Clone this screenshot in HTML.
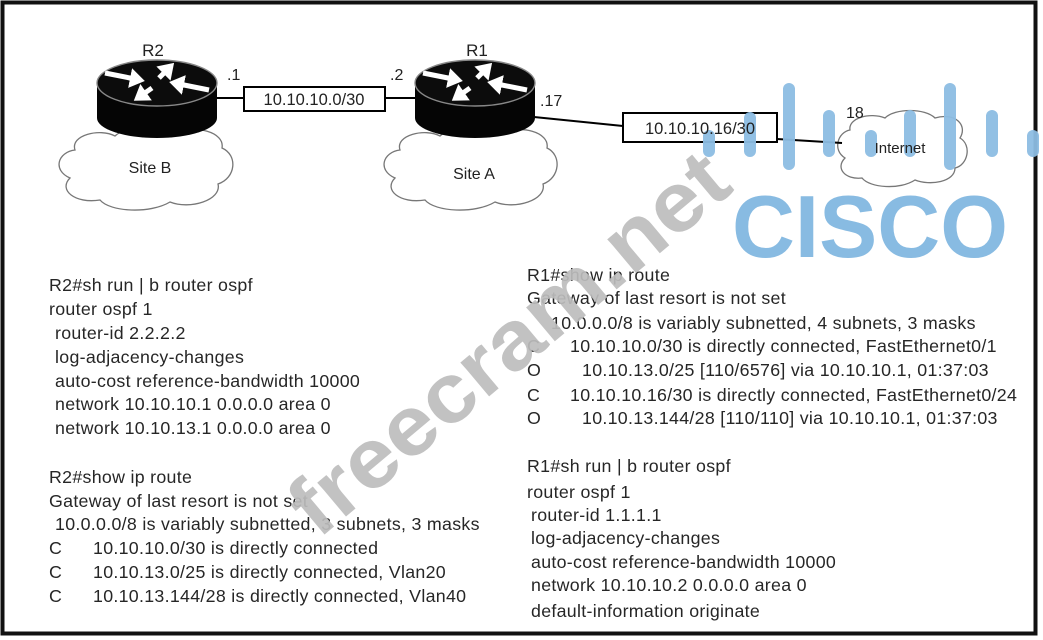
<!DOCTYPE html>
<html><head><meta charset="utf-8"><style>
html,body{margin:0;padding:0;background:#fff;}
body{width:1043px;height:640px;overflow:hidden;position:relative;}
.l{position:absolute;font-family:"Liberation Sans",sans-serif;font-size:17.8px;letter-spacing:0.3px;color:#262626;white-space:pre;line-height:20px;}
.p{display:inline-block;}
</style></head><body>
<svg width="1043" height="640" style="position:absolute;left:0;top:0" xmlns="http://www.w3.org/2000/svg">
<defs>
<marker id="ah" markerWidth="4" markerHeight="4" refX="1" refY="2" orient="auto" markerUnits="strokeWidth"><polygon points="0,0 3,2 0,4" fill="#fff"/></marker>
</defs>
<rect x="2.5" y="2.5" width="1033" height="631" fill="none" stroke="#111" stroke-width="4"/>
<g fill="#fff" stroke="#777" stroke-width="1.3">
<path d="M75,150 C70,135 100,128 115,136 C125,126 160,124 175,134 C195,124 225,132 222,148 C238,155 236,178 218,184 C222,200 190,210 170,202 C150,214 110,212 100,200 C75,204 58,190 70,178 C52,170 58,152 75,150 Z"/>
<path d="M400,150 C395,135 425,128 440,136 C450,126 485,124 500,134 C520,124 550,132 547,148 C562,155 560,178 543,184 C547,200 515,210 495,202 C475,214 435,212 425,200 C400,204 383,190 395,178 C377,170 383,152 400,150 Z"/>
<path d="M850,130 C848,118 870,112 885,118 C895,108 925,108 935,118 C955,112 968,125 960,138 C972,145 968,165 955,168 C955,182 930,186 915,180 C900,190 870,188 862,178 C845,180 835,168 845,158 C832,150 838,132 850,130 Z"/>
</g>
<line x1="214" y1="98" x2="244" y2="98" stroke="#000" stroke-width="2"/>
<line x1="385" y1="98" x2="418" y2="98" stroke="#000" stroke-width="2"/>
<line x1="534" y1="117" x2="623" y2="126" stroke="#000" stroke-width="2"/>
<line x1="777" y1="139" x2="842" y2="143" stroke="#000" stroke-width="2"/>
<rect x="244" y="87" width="141" height="24" fill="#fff" stroke="#000" stroke-width="2"/>
<rect x="623" y="113" width="154" height="29" fill="#fff" stroke="#000" stroke-width="2"/>
<g id="r">
<path d="M97,83 L97,118 A60,20 0 0 0 217,118 L217,83 Z" fill="#050505"/>
<ellipse cx="157" cy="83" rx="60" ry="23" fill="#0c0c0c" stroke="#888" stroke-width="1.4"/>
<g stroke="#fff" stroke-width="5" marker-end="url(#ah)">
<line x1="105" y1="73" x2="135" y2="79"/>
<line x1="209" y1="90" x2="179" y2="84"/>
<line x1="159" y1="78" x2="167" y2="70"/>
<line x1="152" y1="88" x2="142" y2="95"/>
</g>
</g>
<use href="#r" transform="translate(318,0)"/>
<g fill="#8dbde3" opacity="0.95">
<rect x="703" y="130" width="12" height="27" rx="6"/>
<rect x="744" y="112" width="12" height="45" rx="6"/>
<rect x="783" y="83" width="12" height="87" rx="6"/>
<rect x="823" y="110" width="12" height="47" rx="6"/>
<rect x="865" y="130" width="12" height="27" rx="6"/>
<rect x="904" y="110" width="12" height="47" rx="6"/>
<rect x="944" y="83" width="12" height="87" rx="6"/>
<rect x="986" y="110" width="12" height="47" rx="6"/>
<rect x="1027" y="130" width="12" height="27" rx="6"/>
</g>
<text x="870" y="257" text-anchor="middle" font-family="Liberation Sans,sans-serif" font-weight="bold" font-size="88" fill="#88bbe2" textLength="276" lengthAdjust="spacingAndGlyphs">CISCO</text>
<g font-family="Liberation Sans,sans-serif" font-size="16" fill="#222">
<text x="153" y="56" text-anchor="middle" font-size="17">R2</text>
<text x="477" y="56" text-anchor="middle" font-size="17">R1</text>
<text x="227" y="80">.1</text>
<text x="390" y="80">.2</text>
<text x="540" y="106">.17</text>
<text x="846" y="118">18</text>
<text x="314" y="105" text-anchor="middle" font-size="16.5">10.10.10.0/30</text>
<text x="700" y="134" text-anchor="middle" font-size="16.5">10.10.10.16/30</text>
<text x="150" y="173" text-anchor="middle">Site B</text>
<text x="474" y="179" text-anchor="middle">Site A</text>
<text x="900" y="153" text-anchor="middle" font-size="15">Internet</text>
</g>
</svg>

<div class="l" style="left:49px;top:275px">R2#sh run | b router ospf</div>
<div class="l" style="left:49px;top:299px">router ospf 1</div>
<div class="l" style="left:55px;top:323px">router-id 2.2.2.2</div>
<div class="l" style="left:55px;top:347px">log-adjacency-changes</div>
<div class="l" style="left:55px;top:371px">auto-cost reference-bandwidth 10000</div>
<div class="l" style="left:55px;top:394px">network 10.10.10.1 0.0.0.0 area 0</div>
<div class="l" style="left:55px;top:418px">network 10.10.13.1 0.0.0.0 area 0</div>
<div class="l" style="left:49px;top:467px">R2#show ip route</div>
<div class="l" style="left:49px;top:491px">Gateway of last resort is not set</div>
<div class="l" style="left:55px;top:514px">10.0.0.0/8 is variably subnetted, 3 subnets, 3 masks</div>
<div class="l" style="left:49px;top:538px"><span class="p" style="width:44px">C</span>10.10.10.0/30 is directly connected</div>
<div class="l" style="left:49px;top:562px"><span class="p" style="width:44px">C</span>10.10.13.0/25 is directly connected, Vlan20</div>
<div class="l" style="left:49px;top:586px"><span class="p" style="width:44px">C</span>10.10.13.144/28 is directly connected, Vlan40</div>

<div class="l" style="left:527px;top:265px">R1#show ip route</div>
<div class="l" style="left:527px;top:288px">Gateway of last resort is not set</div>
<div class="l" style="left:551px;top:313px">10.0.0.0/8 is variably subnetted, 4 subnets, 3 masks</div>
<div class="l" style="left:527px;top:336px"><span class="p" style="width:43px">C</span>10.10.10.0/30 is directly connected, FastEthernet0/1</div>
<div class="l" style="left:527px;top:360px"><span class="p" style="width:55px">O</span>10.10.13.0/25 [110/6576] via 10.10.10.1, 01:37:03</div>
<div class="l" style="left:527px;top:385px"><span class="p" style="width:43px">C</span>10.10.10.16/30 is directly connected, FastEthernet0/24</div>
<div class="l" style="left:527px;top:408px"><span class="p" style="width:55px">O</span>10.10.13.144/28 [110/110] via 10.10.10.1, 01:37:03</div>
<div class="l" style="left:527px;top:456px">R1#sh run | b router ospf</div>
<div class="l" style="left:527px;top:482px">router ospf 1</div>
<div class="l" style="left:531px;top:505px">router-id 1.1.1.1</div>
<div class="l" style="left:531px;top:528px">log-adjacency-changes</div>
<div class="l" style="left:531px;top:552px">auto-cost reference-bandwidth 10000</div>
<div class="l" style="left:531px;top:575px">network 10.10.10.2 0.0.0.0 area 0</div>
<div class="l" style="left:531px;top:601px">default-information originate</div>

<svg width="1043" height="640" style="position:absolute;left:0;top:0" xmlns="http://www.w3.org/2000/svg">
<text x="0" y="0" transform="translate(318,540) rotate(-40)" font-family="Liberation Sans,sans-serif" font-weight="bold" font-size="84" fill="#bdbdbd" opacity="0.92" textLength="545" lengthAdjust="spacingAndGlyphs">freecram.net</text>
</svg>
</body></html>
